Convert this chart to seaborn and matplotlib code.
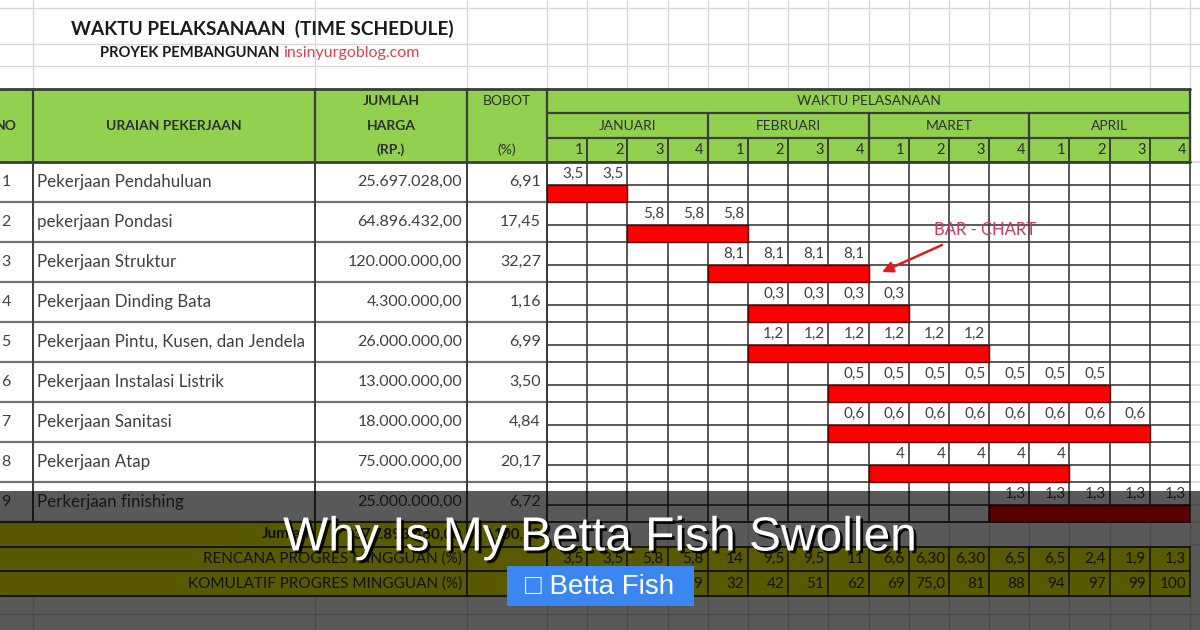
import numpy as np
import pandas as pd
import matplotlib.pyplot as plt
import matplotlib.patheffects as pe
from matplotlib.patches import Rectangle
import seaborn as sns

# ---------------- data ----------------
task_no = ["1", "2", "3", "4", "5", "6", "7", "8", "9"]
tasks = [
    "Pekerjaan Pendahuluan",
    "pekerjaan Pondasi",
    "Pekerjaan Struktur",
    "Pekerjaan Dinding Bata",
    "Pekerjaan Pintu, Kusen, dan Jendela",
    "Pekerjaan Instalasi Listrik",
    "Pekerjaan Sanitasi",
    "Pekerjaan Atap",
    "Perkerjaan finishing",
]
harga = [
    "25.697.028,00", "64.896.432,00", "120.000.000,00", "4.300.000,00",
    "26.000.000,00", "13.000.000,00", "18.000.000,00", "75.000.000,00",
    "25.000.000,00",
]
bobot = ["6,91", "17,45", "32,27", "1,16", "6,99", "3,50", "4,84", "20,17", "6,72"]
start_week = [1, 3, 5, 6, 6, 8, 8, 9, 12]
n_weeks = [2, 3, 4, 4, 6, 7, 8, 5, 5]
weekly = ["3,5", "5,8", "8,1", "0,3", "1,2", "0,5", "0,6", "4", "1,3"]

months = ["JANUARI", "FEBRUARI", "MARET", "APRIL"]
week_labels = ["1", "2", "3", "4"] * 4
rencana = ["3,5", "3,5", "5,8", "5,8", "14", "9,5", "9,5", "11",
           "6,6", "6,30", "6,30", "6,5", "6,5", "2,4", "1,9", "1,3"]
kumulatif = ["3,5", "7,0", "13", "19", "32", "42", "51", "62",
             "69", "75,0", "81", "88", "94", "97", "99", "100"]
total_harga = "371.893.460,00"
total_bobot = "100,00"

# ---------------- layout (pixels) ----------------
COLS = [33, 315, 467, 547]
GX0, GX1 = 547, 1190
HEAD = [89, 113, 138, 162]
ROW_H = 40
N_WEEK = len(week_labels)
WK = (GX1 - GX0) / N_WEEK
BODY_END = HEAD[-1] + ROW_H * len(tasks)
FOOT = [BODY_END, BODY_END + 25, BODY_END + 49, BODY_END + 74]
SHADE_TOP = 491
BAR_H = 17 / ROW_H

GREEN = "#92d050"
YELLOW = "#ffff00"
RED = "#ff0000"
DARK = "#3c3c3c"
MID = "#707070"
LIGHT = "#d8d8d8"
TXT = "#2e2e2e"

sns.set_theme(style="white")
plt.rcParams["font.family"] = ["Lato", "DejaVu Sans"]

fig = plt.figure(figsize=(12, 6.3), dpi=100)
bg = fig.add_axes([0, 0, 1, 1])
bg.set_xlim(0, 1200)
bg.set_ylim(630, 0)
bg.axis("off")

week_edges = [GX0 + k * WK for k in range(N_WEEK + 1)]
all_cols = COLS[:-1] + week_edges

# spreadsheet background grid
for x in all_cols:
    bg.plot([x, x], [0, HEAD[0]], color=LIGHT, lw=1)
    bg.plot([x, x], [FOOT[-1], 630], color=LIGHT, lw=1)
for y in [8, 44, 66, 614]:
    bg.plot([0, 1200], [y, y], color=LIGHT, lw=1)
for k in range(len(tasks) + 1):
    y = HEAD[-1] + k * ROW_H
    bg.plot([GX1, 1200], [y, y], color=LIGHT, lw=1.2)
    bg.plot([GX1, 1200], [y + 23, y + 23], color=LIGHT, lw=1.2)

# title block
bg.text(71, 29, "WAKTU PELAKSANAAN  (TIME SCHEDULE)", fontsize=13.7, fontweight="bold",
        color="#1a1a1a", va="center")
bg.text(100, 53, "PROYEK PEMBANGUNAN", fontsize=10.6, fontweight="bold", color="#1a1a1a", va="center")
bg.text(283, 53, "insinyurgoblog.com", fontsize=11.5, color="#e0404e", va="center")

# header
bg.add_patch(Rectangle((0, HEAD[0]), GX1, HEAD[-1] - HEAD[0], color=GREEN, zorder=1))
bg.plot([0, GX1], [HEAD[0], HEAD[0]], color=DARK, lw=2, zorder=3)
bg.plot([0, GX1], [HEAD[-1], HEAD[-1]], color=DARK, lw=2, zorder=3)
for x in COLS + [GX1]:
    bg.plot([x, x], [HEAD[0], HEAD[-1]], color=DARK, lw=1.6, zorder=3)
for y in HEAD[1:3]:
    bg.plot([GX0, GX1], [y, y], color=DARK, lw=1.6, zorder=3)
for m in range(1, len(months)):
    x = week_edges[4 * m]
    bg.plot([x, x], [HEAD[1], HEAD[-1]], color=DARK, lw=1.6, zorder=3)
for x in week_edges:
    bg.plot([x, x], [HEAD[2], HEAD[-1]], color=DARK, lw=1.4, zorder=3)

hkw = dict(fontsize=10, color=TXT, ha="center", va="center", zorder=4)
bg.text(6, 126, "NO", fontweight="bold", **hkw)
bg.text(174, 126, "URAIAN PEKERJAAN", fontweight="bold", **hkw)
bg.text(391, 101, "JUMLAH", fontweight="bold", **hkw)
bg.text(391, 126, "HARGA", fontweight="bold", **hkw)
bg.text(391, 150, "(RP.)", fontweight="bold", **hkw)
bg.text(507, 101, "BOBOT", **hkw)
bg.text(507, 150, "(%)", **hkw)
bg.text((GX0 + GX1) / 2, 101, "WAKTU PELASANAAN", **hkw)
for m, name in enumerate(months):
    bg.text((week_edges[4 * m] + week_edges[4 * m + 4]) / 2, 126, name, **hkw)
for k, lab in enumerate(week_labels):
    bg.text(week_edges[k + 1] - 4, 150, lab, fontsize=10.5, color=TXT, ha="right",
            va="center", zorder=4)

# left part of the table body
for i in range(len(tasks)):
    yc = HEAD[-1] + i * ROW_H + ROW_H / 2
    bg.text(6, yc, task_no[i], fontsize=11.5, color="#404040", ha="center", va="center")
    bg.text(37, yc, tasks[i], fontsize=12.2, color="#404040", va="center")
    bg.text(COLS[2] - 5, yc, harga[i], fontsize=11.5, color="#404040", ha="right", va="center")
    bg.text(COLS[3] - 6, yc, bobot[i], fontsize=11.5, color="#404040", ha="right", va="center")
for k in range(1, len(tasks) + 1):
    y = HEAD[-1] + k * ROW_H
    bg.plot([0, GX0], [y, y], color=MID, lw=1.6)
for x in COLS:
    bg.plot([x, x], [HEAD[-1], BODY_END], color=DARK, lw=1.4)

# footer rows
bg.add_patch(Rectangle((0, FOOT[0]), GX0, FOOT[1] - FOOT[0], color=YELLOW, zorder=1))
bg.add_patch(Rectangle((0, FOOT[1]), GX1, FOOT[3] - FOOT[1], color=YELLOW, zorder=1))
for x in week_edges:
    bg.plot([x, x], [FOOT[0], FOOT[1]], color=LIGHT, lw=1)
for y in FOOT:
    bg.plot([0, GX1], [y, y], color=DARK, lw=1.4, zorder=2)
bg.plot([COLS[1], COLS[1]], [FOOT[0], FOOT[1]], color=DARK, lw=1.4, zorder=2)
for x in COLS[2:]:
    bg.plot([x, x], [FOOT[0], FOOT[3]], color=DARK, lw=1.4, zorder=2)
for x in week_edges:
    bg.plot([x, x], [FOOT[1], FOOT[3]], color=DARK, lw=1.2, zorder=2)

fy = [(FOOT[j] + FOOT[j + 1]) / 2 for j in range(3)]
bg.text(COLS[1] - 5, fy[0], "Jumlah", fontsize=11, fontweight="bold", color=TXT, ha="right", va="center")
bg.text(COLS[2] - 5, fy[0], total_harga, fontsize=11, fontweight="bold", color=TXT, ha="right", va="center")
bg.text(COLS[3] - 6, fy[0], total_bobot, fontsize=11, fontweight="bold", color=TXT, ha="right", va="center")
bg.text(COLS[2] - 5, fy[1], "RENCANA PROGRES MINGGUAN (%)", fontsize=11, color=TXT, ha="right", va="center")
bg.text(COLS[2] - 5, fy[2], "KOMULATIF PROGRES MINGGUAN (%)", fontsize=11, color=TXT, ha="right", va="center")
for k in range(N_WEEK):
    bg.text(week_edges[k + 1] - 4, fy[1], rencana[k], fontsize=11, color=TXT, ha="right", va="center")
    bg.text(week_edges[k + 1] - 4, fy[2], kumulatif[k], fontsize=11, color=TXT, ha="right", va="center")

# gantt area: weeks on x, tasks on y
gx = fig.add_axes([GX0 / 1200, 1 - BODY_END / 630, (GX1 - GX0) / 1200, (BODY_END - HEAD[-1]) / 630])
gantt = pd.DataFrame({"task": tasks, "start": start_week, "weeks": n_weeks})
sns.barplot(
    data=gantt, x="weeks", y="task", orient="y",
    left=(gantt["start"] - 1).to_numpy(),
    width=BAR_H, color=RED, saturation=1, edgecolor="#5a0000", linewidth=1,
    errorbar=None, ax=gx, zorder=2,
)
y_top = -(1 - BAR_H / 2)
y_bot = len(tasks) - 1 + BAR_H / 2
gx.set_xlim(0, N_WEEK)
gx.set_ylim(y_bot, y_top)
gx.axis("off")

for k in range(N_WEEK + 1):
    gx.plot([k, k], [y_top, y_bot], color=DARK, lw=1.2, zorder=1, clip_on=False)
for i in range(-1, len(tasks)):
    gx.plot([0, N_WEEK], [i + BAR_H / 2] * 2, color=DARK, lw=1.2, zorder=1, clip_on=False)
for i in range(len(tasks)):
    gx.plot([0, N_WEEK], [i - BAR_H / 2] * 2, color=DARK, lw=1.2, zorder=1, clip_on=False)
    val_y = (i - BAR_H / 2 + i - 1 + BAR_H / 2) / 2
    for w in range(start_week[i], start_week[i] + n_weeks[i]):
        gx.text(w - 0.09, val_y, weekly[i], fontsize=11, color="#404040", ha="right", va="center")

gx.annotate("", xy=(882, 272), xycoords=bg.transData, xytext=(942, 245), textcoords=bg.transData,
            arrowprops=dict(arrowstyle="-|>", color="#e01b1b", lw=1.8, mutation_scale=16,
                            shrinkA=0, shrinkB=0), annotation_clip=False)
gx.text(985, 230, "BAR - CHART", transform=bg.transData, fontsize=12, color="#c93a5c",
        ha="center", va="center", clip_on=False)

# dark caption band with title and tag button
fig.add_artist(Rectangle((0, 0), 1, 1 - SHADE_TOP / 630, transform=fig.transFigure,
                         color="black", alpha=0.65, zorder=10, lw=0))
fig.text(0.5, 1 - 538 / 630, "Why Is My Betta Fish Swollen", fontsize=34.5, color="white",
         family=["Liberation Sans", "DejaVu Sans"], ha="center", va="center", zorder=11,
         path_effects=[pe.SimplePatchShadow(offset=(2, -2), shadow_rgbFace="black", alpha=0.9),
                       pe.Normal()])
fig.add_artist(Rectangle((507 / 1200, 1 - 606 / 630), 187 / 1200, 40 / 630,
                         transform=fig.transFigure, color="#3b86f0", zorder=11, lw=0))
fig.text(600 / 1200, 1 - 587 / 630, "\u25a1 Betta Fish", fontsize=20, color="white",
         family=["Liberation Sans", "DejaVu Sans"], ha="center", va="center", zorder=12)

fig.savefig("out.png", dpi=100)
